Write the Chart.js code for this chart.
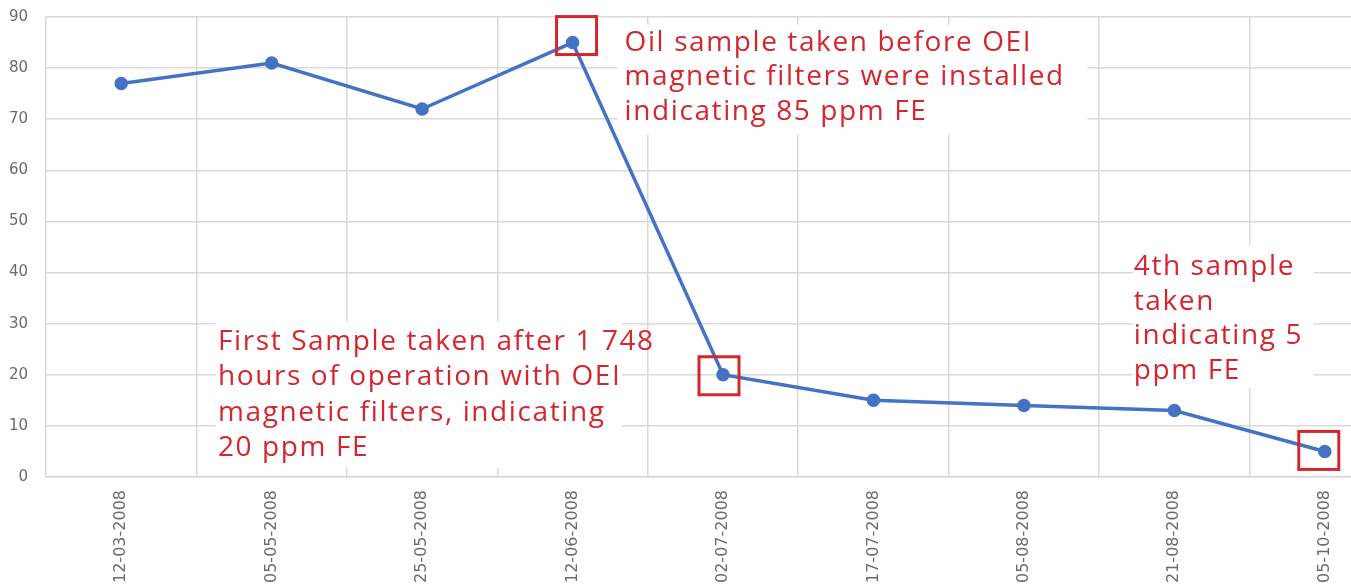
<!DOCTYPE html>
<html lang="en">
<head>
<meta charset="UTF-8">
<title>Oil sample FE ppm</title>
<script src="https://cdn.jsdelivr.net/npm/chart.js"></script>
<style>
html,body{margin:0;padding:0;background:#fff;overflow:hidden;}
.wrap{width:1400px;height:588px;}
</style>
</head>
<body>
<div class="wrap"><canvas id="c"></canvas></div>
<script>
Chart.defaults.animation=false;

const DATES=["12-03-2008","05-05-2008","25-05-2008","12-06-2008","02-07-2008",
             "17-07-2008","05-08-2008","21-08-2008","05-10-2008"];
const FE_PPM=[77,81,72,85,20,15,14,13,5];

const RED="#d4262e";
const NOTES=[
  {i:3,dx:52,dy:8,gap:34.5,lines:["Oil sample taken before OEI","magnetic filters were installed","indicating 85 ppm FE"],
   box:[-7,-26,470,110],sq:[4,-7]},
  {i:4,dx:-505,dy:-25,gap:35.5,lines:["First Sample taken after 1 748","hours of operation with OEI","magnetic filters, indicating","20 ppm FE"],
   box:[-2,-28,406,146],sq:[-4,1]},
  {i:8,dx:-191,dy:-176,gap:34.5,lines:["4th sample","taken","indicating 5","ppm FE"],
   box:[-1,-30,181,143],sq:[-6,-1]}
];

/* ── annotation plugin ─────────────────────────────── */
const notes={
  id:"notes",
  beforeDatasetsDraw(ch){
    const {ctx}=ch, meta=ch.getDatasetMeta(0);
    ctx.save();
    ctx.font="28px 'Open Sans'";
    ctx.letterSpacing="1.6px";
    ctx.textBaseline="alphabetic";
    NOTES.forEach(n=>{
      const p=meta.data[n.i], x=p.x+n.dx, y=p.y+n.dy;
      ctx.fillStyle="#fff";
      ctx.fillRect(x+n.box[0],y+n.box[1],n.box[2],n.box[3]);
      ctx.fillStyle=RED;
      n.lines.forEach((t,k)=>ctx.fillText(t,x,y+k*n.gap));
    });
    ctx.letterSpacing="0px";
    ctx.restore();
  },
  afterDatasetsDraw(ch){
    const {ctx}=ch, meta=ch.getDatasetMeta(0);
    ctx.save();
    ctx.strokeStyle=RED; ctx.lineWidth=3;
    NOTES.forEach(n=>{
      const p=meta.data[n.i];
      ctx.strokeRect(p.x+n.sq[0]-20,p.y+n.sq[1]-19,40,38);
    });
    ctx.restore();
  }
};

const tickFont={family:"'DejaVu Sans'",size:16};

new Chart(document.getElementById("c"),{
  type:"line",
  data:{labels:DATES,datasets:[{
    data:FE_PPM,borderColor:"#4472c4",backgroundColor:"#4472c4",
    borderWidth:3.5,pointRadius:5,pointHoverRadius:5,tension:0
  }]},
  options:{
    responsive:true,maintainAspectRatio:false,
    layout:{autoPadding:false,padding:0},
    plugins:{legend:{display:false},tooltip:{enabled:false}},
    scales:{
      x:{offset:true,
         grid:{offset:true,color:"#d9d9d9",lineWidth:1.5,drawTicks:false},
         border:{color:"#d9d9d9",width:1.5},
         ticks:{color:"#6b6b6b",font:tickFont,
                minRotation:90,maxRotation:90,padding:13,autoSkip:false},
         afterFit:s=>{s.height=111;s.paddingLeft=0;s.paddingRight=0;s.paddingTop=0;s.paddingBottom=0;}},
      y:{min:0,max:90,
         grid:{color:"#d9d9d9",lineWidth:1.5,drawTicks:false},
         border:{display:false},
         ticks:{stepSize:10,color:"#6b6b6b",font:{family:"'DejaVu Sans'",size:15},padding:18},
         afterFit:s=>{s.width=46;s.paddingTop=17;s.paddingBottom=0;}}
    }
  },
  plugins:[notes]
});
</script>
</body>
</html>
